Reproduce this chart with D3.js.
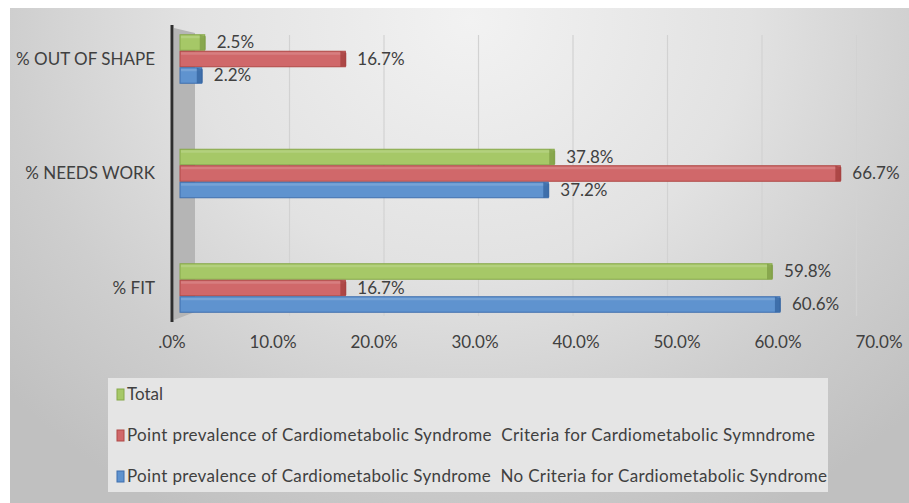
<!DOCTYPE html>
<html>
<head>
<meta charset="utf-8">
<script src="https://cdn.jsdelivr.net/npm/d3@7"></script>
<style>
  html, body { margin: 0; padding: 0; background: #fff; }
  svg { display: block; }
  text { font-family: Lato, "Open Sans", sans-serif; fill: #404040; white-space: pre; }
</style>
</head>
<body>
<svg id="chart" width="909" height="503"></svg>
<script>
// Fitness categories (top to bottom)
const categories = ["% OUT OF SHAPE", "% NEEDS WORK", "% FIT"];

// Series, drawn top to bottom within each category
const seriesNames = [
  "Total",
  "Point prevalence of Cardiometabolic Syndrome  Criteria for Cardiometabolic Symndrome",
  "Point prevalence of Cardiometabolic Syndrome  No Criteria for Cardiometabolic Syndrome"
];
const totalValues    = [2.5, 37.8, 59.8];
const criteriaValues = [16.7, 66.7, 16.7];
const noCriteriaValues = [2.2, 37.2, 60.6];

const tickValues = [0, 10, 20, 30, 40, 50, 60, 70];
const tickLabels = [".0%", "10.0%", "20.0%", "30.0%", "40.0%", "50.0%", "60.0%", "70.0%"];

const seriesValues = [totalValues, criteriaValues, noCriteriaValues];
const colors = [
  { face: "#a6c867", dark: "#7d9c44", edge: "#86a84a" },
  { face: "#d0686a", dark: "#a23c3b", edge: "#b04846" },
  { face: "#5f93cf", dark: "#33639f", edge: "#3f6fae" }
];

const svg = d3.select("#chart");
const defs = svg.append("defs");

// Chart area background: light near the top, greyer towards the edges
const bg = defs.append("radialGradient").attr("id", "bgGrad")
  .attr("gradientUnits", "userSpaceOnUse")
  .attr("cx", 470).attr("cy", 20).attr("r", 620)
  .attr("gradientTransform", "translate(470,20) scale(1,0.9) translate(-470,-20)");
bg.append("stop").attr("offset", "0%").attr("stop-color", "#f2f2f2");
bg.append("stop").attr("offset", "45%").attr("stop-color", "#e2e2e2");
bg.append("stop").attr("offset", "75%").attr("stop-color", "#cecece");
bg.append("stop").attr("offset", "100%").attr("stop-color", "#c0c0c0");

svg.append("rect").attr("x", 10).attr("y", 8).attr("width", 899).attr("height", 495)
  .attr("fill", "url(#bgGrad)");

// Scales: bar values on the front plane, back-wall grid and axis labels
const x = d3.scaleLinear().domain([0, 70]).range([180, 873]);
const xGrid = d3.scaleLinear().domain([0, 70]).range([195, 856.5]);
const xAxis = d3.scaleLinear().domain([0, 70]).range([172, 879]);
const yCat = d3.scalePoint().domain(categories).range([59, 288]);
const barH = 16.5;
const ySeries = d3.scaleBand().domain(d3.range(3)).range([-1.5 * barH, 1.5 * barH]);

// Back wall gridlines
svg.append("g").selectAll("line").data(tickValues.slice(1)).join("line")
  .attr("x1", d => xGrid(d)).attr("x2", d => xGrid(d))
  .attr("y1", 35).attr("y2", 316)
  .attr("stroke", "#d2d2d2").attr("stroke-width", 1.2);

// Side wall next to the category axis
svg.append("path")
  .attr("d", "M174,28 L195,33 L195,312 L174,320 Z")
  .attr("fill", "#b5b5b5");
svg.append("line").attr("x1", 172).attr("x2", 172).attr("y1", 25).attr("y2", 322)
  .attr("stroke", "#2e2e2e").attr("stroke-width", 3);

// Bars
const bars = svg.append("g");
seriesValues.forEach((vals, s) => {
  const c = colors[s];
  categories.forEach((cat, i) => {
    const v = vals[i];
    const y0 = yCat(cat) + ySeries(s);
    const x0 = x(0), x1 = x(v);
    bars.append("rect")
      .attr("x", x0).attr("y", y0 + 0.5)
      .attr("width", x1 - x0).attr("height", barH - 1)
      .attr("fill", c.face).attr("stroke", c.edge).attr("stroke-width", 1);
    // top highlight
    bars.append("rect")
      .attr("x", x0 + 1).attr("y", y0 + 1.5)
      .attr("width", Math.max(0, x1 - x0 - 2)).attr("height", 2.5)
      .attr("fill", "#ffffff").attr("opacity", 0.15);
    // end cap
    bars.append("path")
      .attr("d", `M${x1 - 5},${y0 + 0.5} L${x1 + 1},${y0 + 2} L${x1 + 1},${y0 + barH - 1} L${x1 - 5},${y0 + barH - 0.5} Z`)
      .attr("fill", c.dark).attr("opacity", 0.75);
    // value label
    svg.append("text")
      .attr("x", x1 + 12).attr("y", y0 + barH / 2)
      .attr("dy", "0.35em")
      .attr("font-size", 17)
      .text(d3.format(".1f")(v) + "%");
  });
});

// Category labels
svg.append("g").selectAll("text").data(categories).join("text")
  .attr("x", 155).attr("y", d => yCat(d))
  .attr("dy", "0.35em").attr("text-anchor", "end")
  .attr("font-size", 17)
  .text(d => d);

// Value axis labels
svg.append("g").selectAll("text").data(tickValues).join("text")
  .attr("x", d => xAxis(d)).attr("y", 342)
  .attr("dy", "0.35em").attr("text-anchor", "middle")
  .attr("font-size", 17)
  .text((d, i) => tickLabels[i]);

// Legend
const legend = svg.append("g");
legend.append("rect").attr("x", 108).attr("y", 378).attr("width", 720).attr("height", 114)
  .attr("fill", "#e5e5e5");
const legendY = [394, 435, 476];
const legendWidths = [null, 688, 700];
seriesNames.forEach((name, s) => {
  legend.append("rect")
    .attr("x", 117).attr("y", legendY[s] - 5).attr("width", 7).attr("height", 11)
    .attr("fill", colors[s].face).attr("stroke", colors[s].edge).attr("stroke-width", 1);
  const t = legend.append("text")
    .attr("x", 127).attr("y", legendY[s]).attr("dy", "0.35em")
    .attr("font-size", 17)
    .text(name);
  if (legendWidths[s]) t.attr("textLength", legendWidths[s]).attr("lengthAdjust", "spacing");
});
</script>
</body>
</html>
